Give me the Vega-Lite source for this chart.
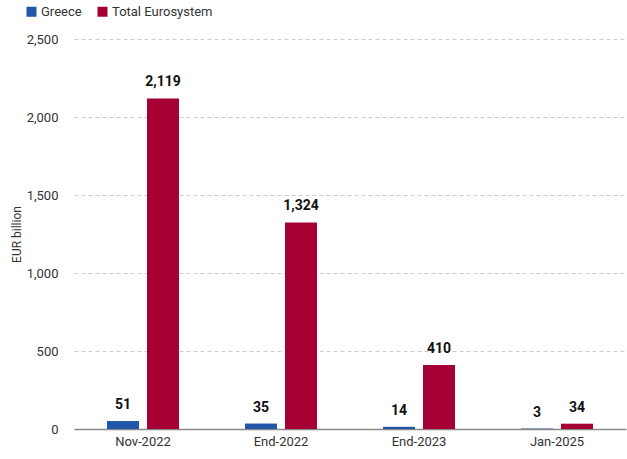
{
  "$schema": "https://vega.github.io/schema/vega-lite/v6.json",
  "width": 552,
  "height": 390,
  "autosize": {"type": "none"},
  "padding": {"left": 74, "top": 39, "right": 1, "bottom": 30},
  "background": "white",
  "config": {
    "font": "Roboto, sans-serif",
    "view": {"stroke": null}
  },
  "data": {
    "values": [
      {"period": "Nov-2022", "series": "Greece", "value": 51},
      {"period": "Nov-2022", "series": "Total Eurosystem", "value": 2119},
      {"period": "End-2022", "series": "Greece", "value": 35},
      {"period": "End-2022", "series": "Total Eurosystem", "value": 1324},
      {"period": "End-2023", "series": "Greece", "value": 14},
      {"period": "End-2023", "series": "Total Eurosystem", "value": 410},
      {"period": "Jan-2025", "series": "Greece", "value": 3},
      {"period": "Jan-2025", "series": "Total Eurosystem", "value": 34}
    ]
  },
  "encoding": {
    "x": {
      "field": "period", "type": "nominal", "sort": null,
      "scale": {"paddingInner": 0, "paddingOuter": 0},
      "axis": {"title": null, "labelAngle": 0, "ticks": false, "domainColor": "#888888", "domainWidth": 1.5, "labelFontSize": 13, "labelColor": "#333333", "labelPadding": 6}
    },
    "xOffset": {
      "field": "series", "type": "nominal",
      "scale": {"paddingInner": 0.2, "paddingOuter": 0.825}
    },
    "y": {
      "field": "value", "type": "quantitative",
      "scale": {"domain": [0, 2500]},
      "axis": {"title": "EUR billion", "titleFontSize": 12, "titleFontWeight": "normal", "titleColor": "#333333", "titlePadding": 3, "values": [0, 500, 1000, 1500, 2000, 2500], "format": ",.0f", "domain": false, "ticks": false, "labelFontSize": 13, "labelColor": "#333333", "labelPadding": 16, "gridDash": [4, 3], "gridColor": "#cccccc"}
    }
  },
  "layer": [
    {
      "mark": {"type": "bar"},
      "encoding": {
        "color": {
          "field": "series", "type": "nominal",
          "scale": {"domain": ["Greece", "Total Eurosystem"], "range": ["#2157A6", "#A50034"]},
          "legend": {"title": null, "orient": "none", "legendX": -49, "legendY": -34, "direction": "horizontal", "symbolType": "square", "symbolSize": 100, "symbolStrokeWidth": 0, "labelFontSize": 13, "labelColor": "#333333", "columnPadding": 14, "labelOffset": 3}
        }
      }
    },
    {
      "mark": {"type": "text", "fontWeight": "bold", "fontSize": 14, "dy": -16, "color": "#111111"},
      "encoding": {
        "text": {"field": "value", "type": "quantitative", "format": ",.0f"}
      }
    }
  ]
}
